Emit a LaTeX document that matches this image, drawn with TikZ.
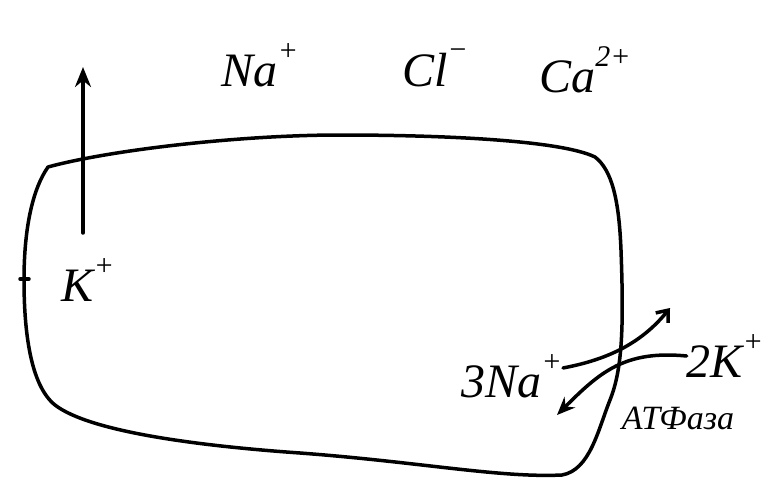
\documentclass[tikz,border=0pt]{standalone}
\usepackage{fontspec}
\setmainfont{Liberation Serif}
\usetikzlibrary{arrows.meta}
\newcommand{\hsup}[1]{\raisebox{0.55em}{\fontsize{30}{30}\selectfont #1}}
\begin{document}
\begin{tikzpicture}[x=1pt,y=-1pt,
  stroke/.style={line width=3.5pt, line cap=round, line join=round},
  ion/.style={font=\fontsize{48}{48}\selectfont\itshape, inner sep=0pt},
  thin/.style={font=\fontsize{34}{34}\selectfont\itshape, inner sep=0pt}]
\useasboundingbox (0,0) rectangle (764,479);
\fill[white] (0,0) rectangle (764,479);
% cell membrane
\draw[stroke] (48,167) .. controls (110,150) and (240,135) .. (340,135)
  .. controls (440,135) and (560,140) .. (595,157)
  .. controls (612,170) and (619,200) .. (621,250)
  .. controls (624,330) and (622,370) .. (610,400)
  .. controls (598,430) and (590,470) .. (562,475)
  .. controls (500,478) and (420,462) .. (300,453)
  .. controls (200,446) and (90,432) .. (55,405)
  .. controls (30,385) and (24,330) .. (24,280)
  .. controls (24,230) and (32,190) .. (48,167) -- cycle;
\draw[stroke] (20,279) -- (29,279);
% outside ions
\node[ion] (na) at (260,65) {Na\hsup{+}};
\node[ion] (cl) at (435,68) {Cl\hsup{\textminus}};
\node[ion] (ca) at (585,70) {Ca\hsup{2+}};
% K+ leaving
\node[ion] (k) at (88,280) {K\hsup{+}};
\coordinate (kstart) at (83,233);
\coordinate (kend) at (83,67);
\draw[stroke,-{Stealth[length=20pt,width=16pt]}] (kstart) -- (kend);
% Na/K pump
\node[ion,anchor=east] (na3) at (562,376) {3Na\hsup{+}};
\node[ion] (k2) at (725,356) {2K\hsup{+}};
\node[thin] (atp) at (678,418) {АТФаза};
\coordinate (naout) at (670,308);
\coordinate (kin) at (557,415);
\coordinate (nastart) at (563,368);
\draw[stroke,-{Straight Barb[length=10pt,width=16pt]}] (nastart) .. controls (605,360) and (640,345) .. (naout);
\draw[stroke,-{Stealth[length=18pt,width=15pt]}] (k2.west) .. controls (625,350) and (600,372) .. (kin);
\end{tikzpicture}
\end{document}
